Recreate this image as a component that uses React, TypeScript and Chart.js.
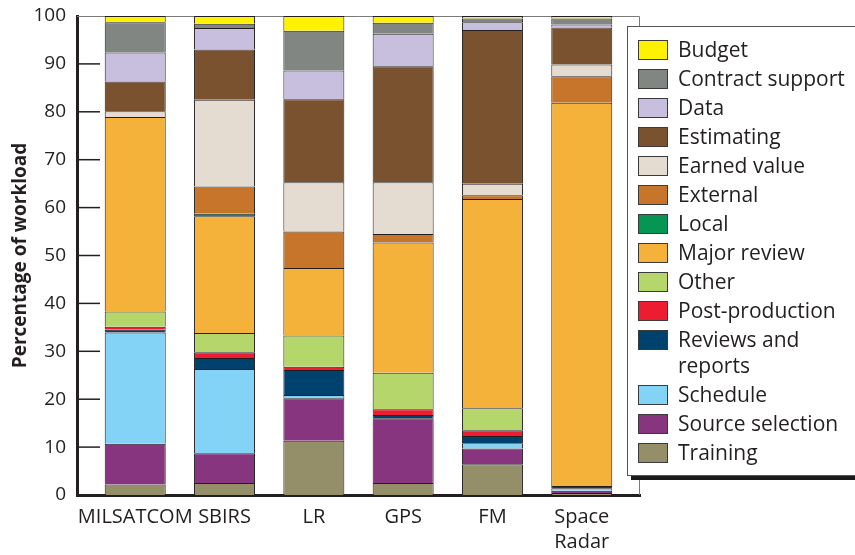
import React, { useEffect, useRef } from 'react';
import { Chart, registerables } from 'chart.js';

Chart.register(...registerables);

// ---- Data (percent of workload), stack order bottom -> top ----
const categories = ['MILSATCOM', 'SBIRS', 'LR', 'GPS', 'FM', 'Space Radar'];
const categoryLabels: string[][] = [['MILSATCOM'], ['SBIRS'], ['LR'], ['GPS'], ['FM'], ['Space', 'Radar']];
const yTickStep = 10;

const training = [2.2, 2.5, 11.3, 2.5, 6.4, 0.4];
const sourceSelection = [8.5, 6.2, 8.9, 13.5, 3.3, 0.5];
const schedule = [23.2, 17.6, 0.7, 0, 1.1, 0.5];
const reviewsAndReports = [0.6, 2.3, 5.2, 0.7, 1.5, 0.5];
const postProduction = [0.6, 1.2, 0.7, 1.2, 1.2, 0];
const other = [3.2, 4.0, 6.5, 7.6, 4.6, 0];
const majorReview = [40.6, 24.4, 14.1, 27.2, 43.7, 80.0];
const local = [0, 0.5, 0, 0, 0, 0];
const external = [0, 5.7, 7.6, 1.8, 0.8, 5.5];
const earnedValue = [1.2, 18.1, 10.3, 10.8, 2.4, 2.5];
const estimating = [6.2, 10.5, 17.3, 24.2, 32.1, 7.7];
const dataSeries = [6.1, 4.5, 6.0, 6.8, 1.6, 0.6];
const contractSupport = [6.3, 0.9, 8.3, 2.3, 0.8, 1.3];
const budget = [1.3, 1.6, 3.1, 1.4, 0.5, 0.5];

const seriesNames = [
  'Training', 'Source selection', 'Schedule', 'Reviews and reports', 'Post-production',
  'Other', 'Major review', 'Local', 'External', 'Earned value', 'Estimating', 'Data',
  'Contract support', 'Budget',
];
const seriesValues = [
  training, sourceSelection, schedule, reviewsAndReports, postProduction,
  other, majorReview, local, external, earnedValue, estimating, dataSeries,
  contractSupport, budget,
];
const seriesColors = [
  '#948f69', '#86357e', '#83d3f6', '#00426e', '#ee1c30',
  '#b4d66a', '#f4b23b', '#049652', '#c7752a', '#e5dcd1', '#7a5230', '#c8bfdf',
  '#818682', '#fff200',
];
const legendWrap: Record<string, string[]> = { 'Reviews and reports': ['Reviews and', 'reports'] };

const INK = '#231f20';
const FONT = '"Open Sans", "Noto Sans", sans-serif';

const decorPlugin = {
  id: 'decor',
  beforeDatasetsDraw(chart: any) {
    const { ctx, chartArea: a, scales } = chart;
    const y = scales.y;
    ctx.save();
    // thin top/right frame
    ctx.strokeStyle = '#7a7a7a';
    ctx.lineWidth = 1;
    ctx.beginPath();
    ctx.moveTo(a.left, a.top + 0.5);
    ctx.lineTo(a.right - 0.5, a.top + 0.5);
    ctx.lineTo(a.right - 0.5, a.bottom);
    ctx.stroke();
    // inward tick marks
    ctx.strokeStyle = INK;
    ctx.lineWidth = 1.5;
    y.ticks.forEach((t: any) => {
      if (t.value > y.min && t.value < y.max) {
        const py = y.getPixelForValue(t.value);
        ctx.beginPath();
        ctx.moveTo(a.left, py);
        ctx.lineTo(a.left + 23, py);
        ctx.stroke();
      }
    });
    ctx.restore();
  },
  afterDraw(chart: any) {
    const { ctx } = chart;
    ctx.save();
    const bx = 627, by = 26, bw = 260, bh = 449;
    // shadow
    ctx.fillStyle = '#1a1a1a';
    ctx.fillRect(bx + 4, by + 4, bw, bh + 1);
    // box
    ctx.fillStyle = '#ffffff';
    ctx.fillRect(bx, by, bw, bh);
    ctx.strokeStyle = '#555555';
    ctx.lineWidth = 1;
    ctx.strokeRect(bx + 0.5, by + 0.5, bw, bh);
    // items (top of stack first)
    const ds = chart.data.datasets.slice().reverse();
    let rowY = 50;
    ctx.font = `21px ${FONT}`;
    ctx.textBaseline = 'middle';
    ds.forEach((d: any) => {
      ctx.fillStyle = d.backgroundColor;
      ctx.fillRect(638, rowY - 10, 30, 20);
      ctx.strokeStyle = '#3a3a3a';
      ctx.lineWidth = 1;
      ctx.strokeRect(638.5, rowY - 9.5, 29, 19);
      const lines = legendWrap[d.label] || [d.label];
      ctx.fillStyle = INK;
      lines.forEach((ln: string, i: number) => {
        ctx.fillText(ln, 678, rowY + 1 + i * 26);
      });
      rowY += 29 + (lines.length - 1) * 26;
    });
    ctx.restore();
  },
};

export default function App() {
  const ref = useRef<HTMLCanvasElement | null>(null);

  useEffect(() => {
    if (!ref.current) return;
    const chart = new Chart(ref.current, {
      type: 'bar',
      data: {
        datasets: seriesNames.map((name, k) => ({
          label: name,
          data: seriesValues[k].map((v, i) => ({ x: i, y: v })),
          backgroundColor: seriesColors[k],
          borderColor: INK,
          borderWidth: 1,
          borderSkipped: 'bottom',
          barPercentage: 0.683,
          categoryPercentage: 1,
        })),
      },
      options: {
        responsive: false,
        animation: false,
        devicePixelRatio: 1,
        layout: { padding: { left: 0, top: 16, right: 215, bottom: 0 } },
        plugins: {
          legend: { display: false },
          tooltip: { enabled: false },
        },
        scales: {
          x: {
            type: 'linear',
            stacked: true,
            min: -0.652,
            max: categories.length - 1 + 0.652,
            offset: false,
            afterBuildTicks(scale: any) {
              scale.ticks = categories.map((_, i) => ({ value: i }));
            },
            afterFit(scale: any) {
              scale.height = 60;
            },
            ticks: {
              autoSkip: false,
              maxRotation: 0,
              padding: 10,
              color: INK,
              font: { family: FONT, size: 20, lineHeight: 1.25 },
              callback: (v: any) => categoryLabels[Math.round(Number(v))] ?? '',
            },
            grid: { display: false, drawTicks: false },
            border: { display: true, color: INK, width: 3 },
          },
          y: {
            stacked: true,
            min: 0,
            max: 100,
            afterFit(scale: any) {
              scale.width = 77;
              scale.paddingTop = 0;
              scale.paddingBottom = 0;
            },
            ticks: {
              stepSize: yTickStep,
              padding: 11,
              color: INK,
              font: { family: FONT, size: 19 },
            },
            grid: { display: false, drawTicks: false },
            border: { display: true, color: INK, width: 3 },
            title: {
              display: true,
              text: 'Percentage of workload',
              color: INK,
              font: { family: FONT, size: 19, weight: 'bold' },
              padding: { top: 9, bottom: 0 },
            },
          },
        },
      } as any,
      plugins: [decorPlugin],
    });
    return () => chart.destroy();
  }, []);

  return (
    <canvas
      ref={ref}
      width={855}
      height={555}
      style={{ position: 'absolute', left: 0, top: 0, width: 855, height: 555, background: '#fff' }}
    />
  );
}
